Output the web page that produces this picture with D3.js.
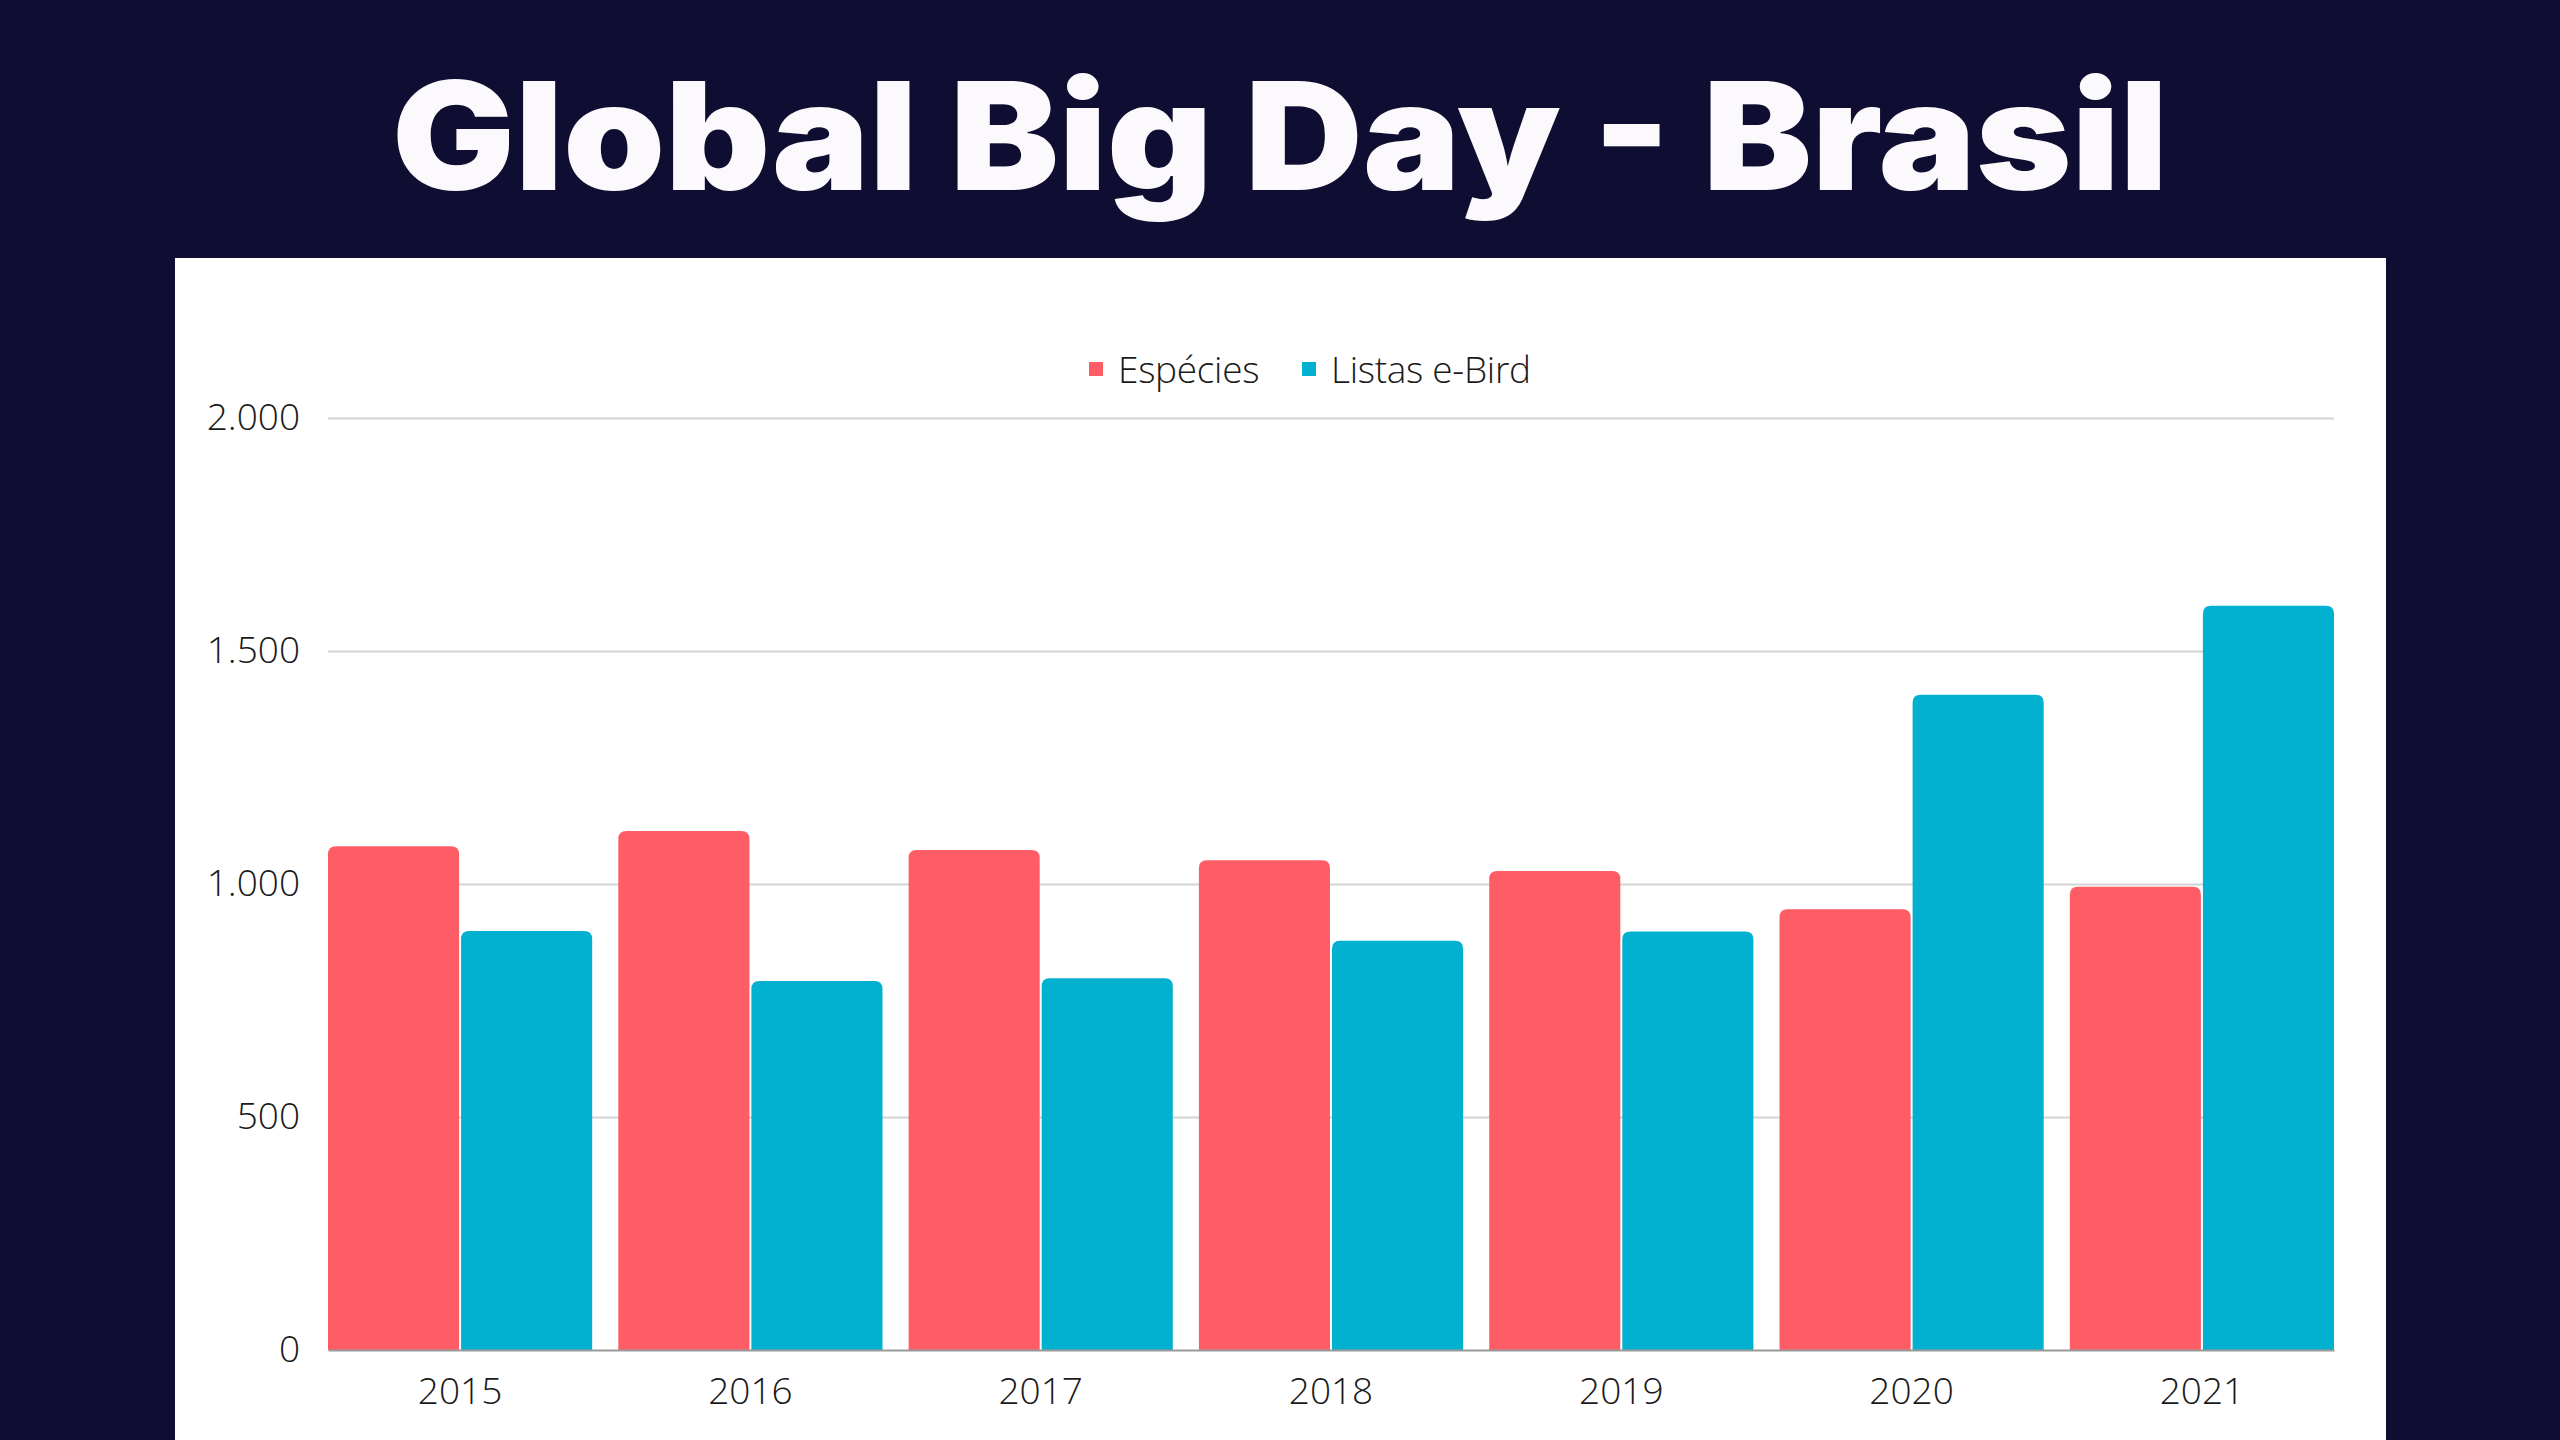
<!DOCTYPE html>
<html>
<head>
<meta charset="utf-8">
<script src="https://cdn.jsdelivr.net/npm/d3@7"></script>
<style>
  html, body { margin: 0; padding: 0; background: #100d33; }
  svg { display: block; }
</style>
</head>
<body>
<svg id="chart" width="2560" height="1440"></svg>
<script>
const title = "Global Big Day - Brasil";
const years = ["2015", "2016", "2017", "2018", "2019", "2020", "2021"];
const seriesNames = ["Espécies", "Listas e-Bird"];
const especies = [1081, 1114, 1073, 1051, 1028, 946, 994];
const listas = [899, 792, 798, 878, 898, 1406, 1597];
const yTicks = [0, 500, 1000, 1500, 2000];
const colors = ["#fe5d65", "#02b0d0"];

const W = 2560, H = 1440;
const svg = d3.select("#chart");

svg.append("rect").attr("x", 0).attr("y", 0).attr("width", W).attr("height", H).attr("fill", "#100d33");

// Title
const t = svg.append("text")
  .attr("x", 1280).attr("y", 190)
  .attr("text-anchor", "middle")
  .attr("fill", "#fbf9fb")
  .style("font-family", "Inter, 'Open Sans', sans-serif")
  .style("font-weight", 900)
  .style("font-size", "150px")
  .text(title);
t.attr("textLength", 1776).attr("lengthAdjust", "spacingAndGlyphs");

// White panel
svg.append("rect").attr("x", 175).attr("y", 258).attr("width", 2211).attr("height", H - 258).attr("fill", "#ffffff");

const margin = { left: 328, right: 2334, top: 418, bottom: 1350 };

const x0 = d3.scaleBand().domain(years).range([margin.left, margin.right]).paddingInner(0.09).paddingOuter(0);
const x1 = d3.scaleBand().domain(seriesNames).range([0, x0.bandwidth()]).paddingInner(0.015);
const y = d3.scaleLinear().domain([0, 2000]).range([margin.bottom, margin.top]);

const locale = d3.formatLocale({ decimal: ",", thousands: ".", grouping: [3], currency: ["R$", ""] });
const fmt = locale.format(",d");

const labelFont = "'Open Sans', sans-serif";

// Grid lines
const yAxis = d3.axisLeft(y).tickValues(yTicks).tickFormat(fmt)
  .tickSize(-(margin.right - margin.left)).tickPadding(28);
const gy = svg.append("g").attr("transform", `translate(${margin.left},0)`).call(yAxis);
gy.select(".domain").remove();
gy.selectAll(".tick line").attr("stroke", "#d4d4d4").attr("stroke-width", 2);
gy.selectAll(".tick text")
  .attr("fill", "#1a1a1a")
  .style("font-family", labelFont)
  .style("font-weight", 300)
  .style("font-size", "37px");
gy.selectAll(".tick").filter(d => d === 0).select("line").remove();

// Bars
const data = years.map((yr, i) => ({ year: yr, values: [especies[i], listas[i]] }));
const r = 8;
function topRounded(x, yTop, w, yBot) {
  const rr = Math.min(r, (yBot - yTop) / 2, w / 2);
  return `M${x},${yBot}V${yTop + rr}Q${x},${yTop} ${x + rr},${yTop}H${x + w - rr}Q${x + w},${yTop} ${x + w},${yTop + rr}V${yBot}Z`;
}
const groups = svg.append("g").selectAll("g").data(data).join("g")
  .attr("transform", d => `translate(${x0(d.year)},0)`);
groups.selectAll("path").data(d => d.values.map((v, i) => ({ name: seriesNames[i], value: v, i })))
  .join("path")
  .attr("d", d => topRounded(x1(d.name), y(d.value), x1.bandwidth(), y(0)))
  .attr("fill", d => colors[d.i]);

// X axis
const xAxis = d3.axisBottom(x0).tickSize(0).tickPadding(28);
const gx = svg.append("g").attr("transform", `translate(0,${margin.bottom})`).call(xAxis);
gx.select(".domain").attr("stroke", "#9a9a9a").attr("stroke-width", 2);
gx.selectAll(".tick text")
  .attr("fill", "#1a1a1a")
  .style("font-family", labelFont)
  .style("font-weight", 300)
  .style("font-size", "37px");

// Legend
const legend = svg.append("g");
const legendItems = [
  { name: seriesNames[0], color: colors[0], x: 1089 },
  { name: seriesNames[1], color: colors[1], x: 1302 }
];
legendItems.forEach(it => {
  legend.append("rect").attr("x", it.x).attr("y", 362).attr("width", 14).attr("height", 14).attr("fill", it.color);
  legend.append("text").attr("x", it.x + 29).attr("y", 383)
    .attr("fill", "#1a1a1a")
    .style("font-family", labelFont)
    .style("font-weight", 300)
    .style("font-size", "37px")
    .style("letter-spacing", "-0.3px")
    .text(it.name);
});
</script>
</body>
</html>
